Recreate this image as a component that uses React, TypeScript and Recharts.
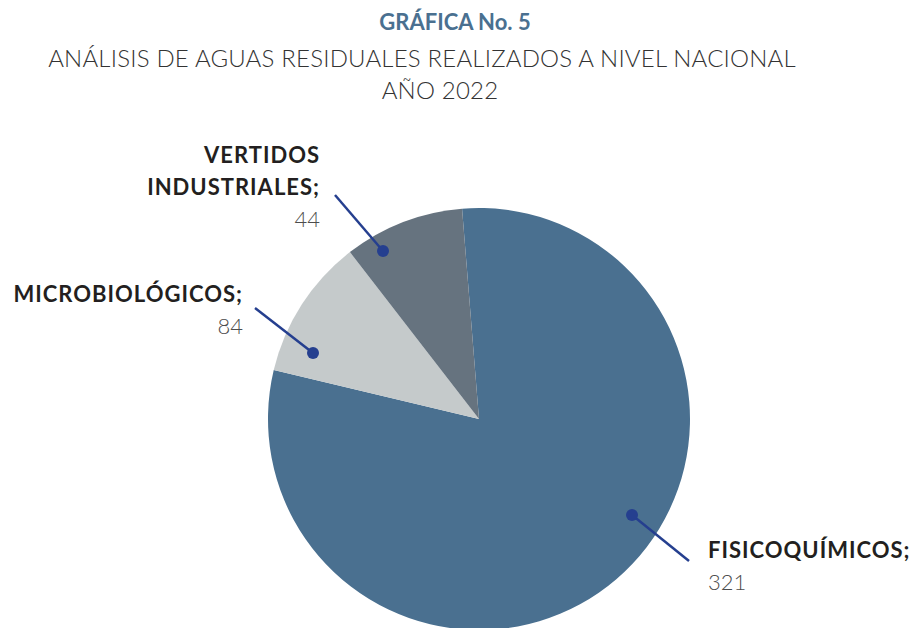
import { PieChart, Pie, Cell } from "recharts"

// Labels as printed on the graphic
const categories = ["FISICOQUÍMICOS;", "MICROBIOLÓGICOS;", "VERTIDOS\nINDUSTRIALES;"]
const printedValues = [321, 84, 44]
// Slice sizes as drawn (% of the circle) — the original slices don't follow the printed numbers
const sliceShares = [80.0, 10.8, 9.2]
const colors = ["#4a7090", "#c5cacb", "#66737f"]

const data = categories.map((name, i) => ({
  name,
  value: sliceShares[i],
  printed: printedValues[i],
}))

// callout placement relative to pie center: dot, line end, text anchor
const callouts = [
  { dot: [153, 96], end: [210, 142], text: [229, 139], anchor: "start" },
  { dot: [-166, -66], end: [-224, -111], text: [-236, -117], anchor: "end" },
  { dot: [-96, -168], end: [-144, -224], text: [-159, -256], anchor: "end" },
]

const LINE_H = 32

function renderCallout(props: any) {
  const { cx, cy, index } = props
  const c = callouts[index]
  const d = data[index]
  const lines = d.name.split("\n")
  const tx = cx + c.text[0]
  const ty = cy + c.text[1]
  return (
    <g key={`callout-${index}`}>
      <line
        x1={cx + c.dot[0]}
        y1={cy + c.dot[1]}
        x2={cx + c.end[0]}
        y2={cy + c.end[1]}
        stroke="#253f8f"
        strokeWidth={2.5}
      />
      <circle cx={cx + c.dot[0]} cy={cy + c.dot[1]} r={6} fill="#253f8f" />
      <text
        x={tx}
        y={ty}
        textAnchor={c.anchor}
        fontFamily="Lato, sans-serif"
        fontSize={22}
      >
        {lines.map((ln: string, i: number) => (
          <tspan
            key={i}
            x={tx}
            y={ty + i * LINE_H}
            fill="#231f20"
            fontWeight={700}
            letterSpacing={1}
          >
            {ln}
          </tspan>
        ))}
        <tspan x={tx} y={ty + lines.length * LINE_H} fill="#4d4d4d" fontWeight={300}>
          {d.printed}
        </tspan>
      </text>
    </g>
  )
}

export default function App() {
  return (
    <div
      style={{
        position: "absolute",
        left: 0,
        top: 0,
        width: 912,
        height: 628,
        background: "#ffffff",
        overflow: "hidden",
        fontFamily: "Lato, sans-serif",
      }}
    >
      <div
        style={{
          position: "absolute",
          top: 7,
          left: 0,
          width: 910,
          textAlign: "center",
          color: "#4a7090",
          fontSize: 22,
          fontWeight: 700,
          lineHeight: "30px",
        }}
      >
        GRÁFICA No. 5
      </div>
      <div
        style={{
          position: "absolute",
          top: 42,
          left: 0,
          width: 844,
          textAlign: "center",
          color: "#333333",
          fontSize: 24,
          fontWeight: 300,
          letterSpacing: 0.2,
          lineHeight: "32px",
        }}
      >
        ANÁLISIS DE AGUAS RESIDUALES REALIZADOS A NIVEL NACIONAL
        <br />
        <span style={{ position: "relative", left: 18 }}>AÑO 2022</span>
      </div>
      <div style={{ position: "absolute", left: 0, top: 0 }}>
        <PieChart width={912} height={628} margin={{ top: 0, right: 0, bottom: 0, left: 0 }}>
          <Pie
            data={data}
            dataKey="value"
            nameKey="name"
            cx={479}
            cy={419}
            outerRadius={211}
            startAngle={94.6}
            endAngle={-265.4}
            stroke="none"
            label={renderCallout}
            labelLine={false}
            isAnimationActive={false}
          >
            {data.map((d, i) => (
              <Cell key={d.name} fill={colors[i]} />
            ))}
          </Pie>
        </PieChart>
      </div>
    </div>
  )
}
